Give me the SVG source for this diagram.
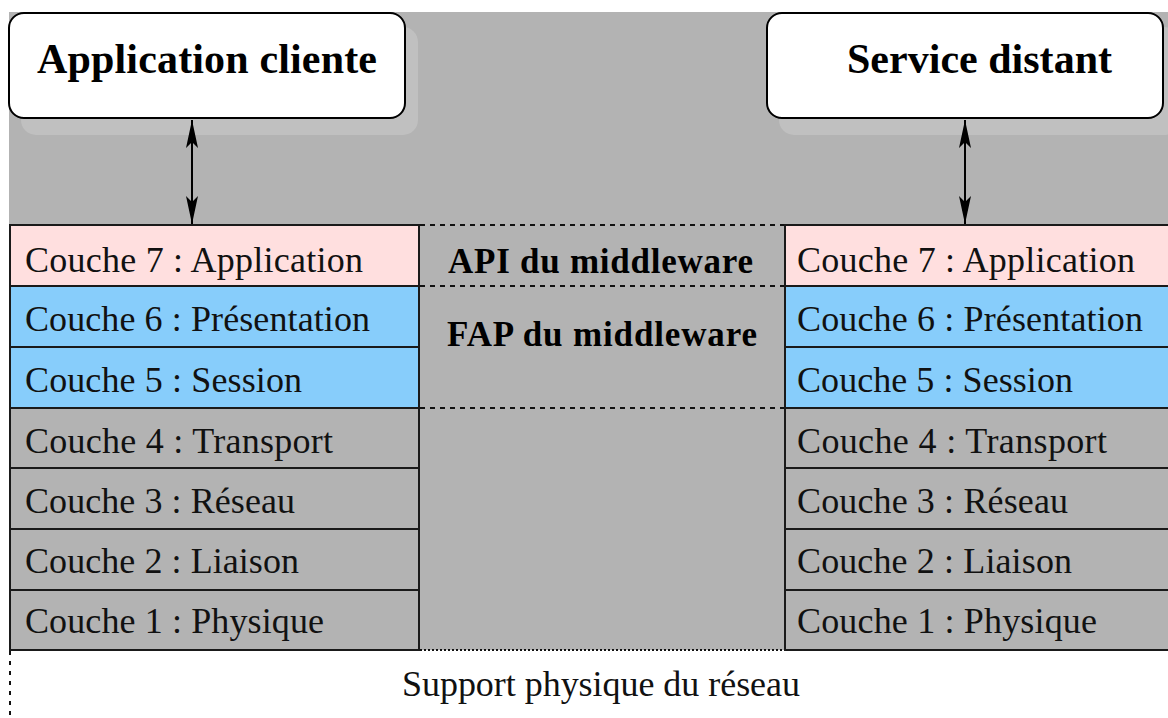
<svg xmlns="http://www.w3.org/2000/svg" width="1168" height="718" viewBox="0 0 1168 718">
<style>
.title{font-family:"Liberation Serif",serif;font-weight:bold;font-size:42px;fill:#000}
.mid{font-family:"Liberation Serif",serif;font-weight:bold;font-size:35px;fill:#000}
.lay{font-family:"Liberation Serif",serif;font-size:36px;fill:#111}
.sup{font-family:"Liberation Serif",serif;font-size:36px;fill:#111}
.cell{stroke:#1a1a1a;stroke-width:2}
.app{fill:#ffdfdf}
.ps{fill:#87cdfb}
.low{fill:#b3b3b3}
.box{fill:#fff;stroke:#000;stroke-width:2}
.shadow{fill:#c0c0c0}
.dash{stroke:#111;stroke-width:2;stroke-dasharray:5,5;fill:none}
.dot{stroke:#111;stroke-width:2;stroke-dasharray:2,2;fill:none}
.link{stroke:#000;stroke-width:2;fill:none}
</style>
<defs>
<marker id="ah" markerUnits="userSpaceOnUse" markerWidth="28" markerHeight="14" refX="28" refY="7" orient="auto-start-reverse" viewBox="0 0 28 14">
<path d="M0,1 L28,7 L0,13 L6,7 z" fill="#000"/>
</marker>
</defs>
<rect x="0" y="0" width="1168" height="718" fill="#fff"/>
<rect x="9" y="12" width="1159" height="638" fill="#b3b3b3"/>

<g id="client">
<rect class="shadow" x="21" y="27" width="397" height="108" rx="15"/>
<rect class="box" x="9" y="13" width="396" height="105" rx="15"/>
<text class="title" x="37" y="73" textLength="340" lengthAdjust="spacing">Application cliente</text>
</g>
<g id="service">
<rect class="shadow" x="779" y="27" width="400" height="108" rx="15"/>
<rect class="box" x="767" y="13" width="396" height="105" rx="15"/>
<text class="title" x="847" y="73" textLength="265" lengthAdjust="spacing">Service distant</text>
</g>

<g id="connectors">
<line class="link" x1="192" y1="120" x2="192" y2="224" marker-start="url(#ah)" marker-end="url(#ah)"/>
<line class="link" x1="965" y1="120" x2="965" y2="224" marker-start="url(#ah)" marker-end="url(#ah)"/>
</g>

<g id="left-stack">
<g id="l7"><rect class="cell app" x="10" y="225" width="409" height="61"/><text class="lay" x="25" y="272" textLength="338" lengthAdjust="spacing">Couche 7 : Application</text></g>
<g id="l6"><rect class="cell ps" x="10" y="286" width="409" height="61"/><text class="lay" x="25" y="331" textLength="345" lengthAdjust="spacing">Couche 6 : Présentation</text></g>
<g id="l5"><rect class="cell ps" x="10" y="347" width="409" height="61"/><text class="lay" x="25" y="392" textLength="277" lengthAdjust="spacing">Couche 5 : Session</text></g>
<g id="l4"><rect class="cell low" x="10" y="408" width="409" height="60"/><text class="lay" x="25" y="453" textLength="308" lengthAdjust="spacing">Couche 4 : Transport</text></g>
<g id="l3"><rect class="cell low" x="10" y="468" width="409" height="61"/><text class="lay" x="25" y="513" textLength="270" lengthAdjust="spacing">Couche 3 : Réseau</text></g>
<g id="l2"><rect class="cell low" x="10" y="529" width="409" height="61"/><text class="lay" x="25" y="573" textLength="274" lengthAdjust="spacing">Couche 2 : Liaison</text></g>
<g id="l1"><rect class="cell low" x="10" y="590" width="409" height="60"/><text class="lay" x="25" y="633" textLength="299" lengthAdjust="spacing">Couche 1 : Physique</text></g>
</g>

<g id="right-stack">
<g id="r7"><rect class="cell app" x="785" y="225" width="400" height="61"/><text class="lay" x="797" y="272" textLength="338" lengthAdjust="spacing">Couche 7 : Application</text></g>
<g id="r6"><rect class="cell ps" x="785" y="286" width="400" height="61"/><text class="lay" x="797" y="331" textLength="346" lengthAdjust="spacing">Couche 6 : Présentation</text></g>
<g id="r5"><rect class="cell ps" x="785" y="347" width="400" height="61"/><text class="lay" x="797" y="392" textLength="276" lengthAdjust="spacing">Couche 5 : Session</text></g>
<g id="r4"><rect class="cell low" x="785" y="408" width="400" height="60"/><text class="lay" x="797" y="453" textLength="310" lengthAdjust="spacing">Couche 4 : Transport</text></g>
<g id="r3"><rect class="cell low" x="785" y="468" width="400" height="61"/><text class="lay" x="797" y="513" textLength="271" lengthAdjust="spacing">Couche 3 : Réseau</text></g>
<g id="r2"><rect class="cell low" x="785" y="529" width="400" height="61"/><text class="lay" x="797" y="573" textLength="275" lengthAdjust="spacing">Couche 2 : Liaison</text></g>
<g id="r1"><rect class="cell low" x="785" y="590" width="400" height="60"/><text class="lay" x="797" y="633" textLength="300" lengthAdjust="spacing">Couche 1 : Physique</text></g>
</g>

<g id="middleware">
<line class="dash" x1="420" y1="225" x2="784" y2="225"/>
<line class="dash" x1="420" y1="286" x2="784" y2="286"/>
<line class="dash" x1="420" y1="408" x2="784" y2="408"/>
<line class="dot" x1="420" y1="650" x2="784" y2="650"/>
<g id="api"><text class="mid" x="448" y="273" textLength="305" lengthAdjust="spacing">API du middleware</text></g>
<g id="fap"><text class="mid" x="447" y="346" textLength="310" lengthAdjust="spacing">FAP du middleware</text></g>
</g>

<g id="support">
<line class="dash" x1="10" y1="651" x2="10" y2="718" style="stroke-dasharray:4,6"/>
<text class="sup" x="402" y="696" textLength="398" lengthAdjust="spacing">Support physique du réseau</text>
</g>
</svg>
